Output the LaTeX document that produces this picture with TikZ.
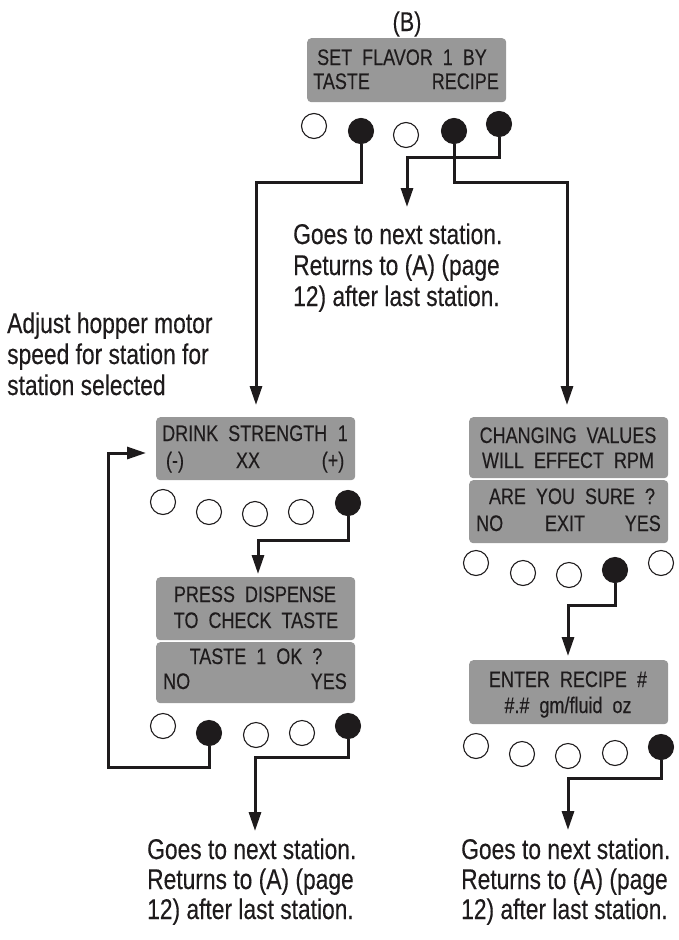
\documentclass[tikz,border=0pt]{standalone}
\usepackage{fontspec}
\setmainfont{Liberation Sans}[FakeStretch=0.8,FakeBold=0.3]
\newfontfamily\lcdfont{Liberation Sans}[FakeStretch=0.8,WordSpace=2,FakeBold=0.2]
\usetikzlibrary{arrows.meta}
\definecolor{lcd}{RGB}{152,152,152}
\definecolor{ink}{RGB}{30,27,28}
\tikzset{
  lcdbox/.style={fill=lcd, rounded corners=4pt, draw=none, inner sep=0, anchor=north west, minimum width=199pt, minimum height=63pt},
  ltxt/.style={font=\lcdfont\fontsize{22.5}{26}\selectfont, text=ink, inner sep=0},
  btxt/.style={font=\fontsize{28.5}{31}\selectfont, text=ink, inner sep=0, anchor=base west},
  btnoff/.style={circle, draw=ink, line width=1.1pt, fill=white, minimum size=25pt, inner sep=0},
  btnon/.style={circle, draw=ink, line width=1.1pt, fill=ink, minimum size=25pt, inner sep=0},
  conn/.style={draw=ink, line width=3pt, line join=miter, -{Triangle[length=19pt,width=12pt]}}
}
\begin{document}
\begin{tikzpicture}[x=1pt,y=-1pt]
\useasboundingbox (0,0) rectangle (678,940);

% ---------- top screen ----------
\node[font=\fontsize{27}{30}\selectfont, text=ink, inner sep=0, anchor=base] (lblB) at (407,31) {(B)};
\node[lcdbox, minimum height=64pt] (bTop) at (307,38) {};
\node[ltxt, anchor=base] (bTop1) at (402,65) {SET FLAVOR 1 BY};
\node[ltxt, anchor=base west] (bTop2) at (313,89) {TASTE};
\node[ltxt, anchor=base east] (bTop3) at (499,89) {RECIPE};
\node[btnoff] (t1) at (314,126) {};
\node[btnon]  (t2) at (361,131) {};
\node[btnoff] (t3) at (406,135) {};
\node[btnon]  (t4) at (454,131) {};
\node[btnon]  (t5) at (499,124) {};

% middle text
\node[btxt] (m1) at (293,244) {Goes to next station.};
\node[btxt] (m2) at (293,275) {Returns to (A) (page};
\node[btxt] (m3) at (293,306) {12) after last station.};

% adjust text
\node[btxt] (a1) at (7,333) {Adjust hopper motor};
\node[btxt] (a2) at (7,364) {speed for station for};
\node[btxt] (a3) at (7,395) {station selected};

% ---------- left column ----------
\node[lcdbox] (dA) at (156,417) {};
\node[ltxt, anchor=base west] (dA1) at (162,441) {DRINK STRENGTH};
\node[ltxt, anchor=base east] (dA2) at (348,441) {1};
\node[ltxt, anchor=base] (dA3) at (175,468) {(-)};
\node[ltxt, anchor=base] (dA4) at (248,468) {XX};
\node[ltxt, anchor=base] (dA5) at (333,468) {(+)};
\node[btnoff] (d1) at (163,502) {};
\node[btnoff] (d2) at (209,512) {};
\node[btnoff] (d3) at (255,514) {};
\node[btnoff] (d4) at (301,512) {};
\node[btnon]  (d5) at (348,503) {};

\node[lcdbox] (pA) at (156,577) {};
\node[ltxt, anchor=base] (pA1) at (255,602) {PRESS DISPENSE};
\node[ltxt, anchor=base] (pA2) at (256,628) {TO CHECK TASTE};
\node[lcdbox, minimum height=61pt] (qA) at (156,642) {};
\node[ltxt, anchor=base] (qA1) at (256,664) {TASTE 1 OK ?};
\node[ltxt, anchor=base west] (qA2) at (163,689) {NO};
\node[ltxt, anchor=base east] (qA3) at (347,689) {YES};
\node[btnoff] (s1) at (163,726) {};
\node[btnon]  (s2) at (209,733) {};
\node[btnoff] (s3) at (256,735) {};
\node[btnoff] (s4) at (302,733) {};
\node[btnon]  (s5) at (348,726) {};

\node[btxt] (l1) at (147,859) {Goes to next station.};
\node[btxt] (l2) at (147,889) {Returns to (A) (page};
\node[btxt] (l3) at (147,919) {12) after last station.};

% ---------- right column ----------
\node[lcdbox, minimum height=61pt] (cA) at (469,417) {};
\node[ltxt, anchor=base] (cA1) at (568,443) {CHANGING VALUES};
\node[ltxt, anchor=base] (cA2) at (568,468) {WILL EFFECT RPM};
\node[lcdbox] (rA) at (469,480) {};
\node[ltxt, anchor=base] (rA1) at (572,504) {ARE YOU SURE ?};
\node[ltxt, anchor=base west] (rA2) at (476,531) {NO};
\node[ltxt, anchor=base] (rA3) at (565,531) {EXIT};
\node[ltxt, anchor=base east] (rA4) at (661,531) {YES};
\node[btnoff] (r1) at (476,563) {};
\node[btnoff] (r2) at (523,573) {};
\node[btnoff] (r3) at (569,575) {};
\node[btnon]  (r4) at (615,570) {};
\node[btnoff] (r5) at (661,563) {};

\node[lcdbox, minimum height=64pt] (eA) at (469,660) {};
\node[ltxt, anchor=base] (eA1) at (568,687) {ENTER RECIPE \#};
\node[ltxt, anchor=base] (eA2) at (568,713) {\#.\# gm/fluid oz};
\node[btnoff] (e1) at (476,746) {};
\node[btnoff] (e2) at (522,754) {};
\node[btnoff] (e3) at (568,756) {};
\node[btnoff] (e4) at (615,753) {};
\node[btnon]  (e5) at (661,747) {};

\node[btxt] (g1) at (461,859) {Goes to next station.};
\node[btxt] (g2) at (461,889) {Returns to (A) (page};
\node[btxt] (g3) at (461,919) {12) after last station.};

% ---------- connectors ----------
\coordinate (cA0) at (256,182);  \coordinate (tipA) at (256,405);
\coordinate (cB0) at (407,157);  \coordinate (tipB) at (407,207);
\coordinate (cC0) at (567,182);  \coordinate (tipC) at (567,405);
\coordinate (cD0) at (258,540);  \coordinate (tipD) at (258,574);
\coordinate (cE0) at (108,767);  \coordinate (tipE) at (146,453);
\coordinate (cF0) at (255,757);  \coordinate (tipF) at (255,831);
\coordinate (cG0) at (568,605);  \coordinate (tipG) at (568,656);
\coordinate (cH0) at (568,778);  \coordinate (tipH) at (568,830);

\draw[conn] (t2) |- (cA0) -- (tipA);
\draw[conn] (t5) |- (cB0) -- (tipB);
\draw[conn] (t4) |- (cC0) -- (tipC);
\draw[conn] (d5) |- (cD0) -- (tipD);
\draw[conn] (s2) |- (cE0) |- (tipE);
\draw[conn] (s5) |- (cF0) -- (tipF);
\draw[conn] (r4) |- (cG0) -- (tipG);
\draw[conn] (e5) |- (cH0) -- (tipH);
\end{tikzpicture}
\end{document}
